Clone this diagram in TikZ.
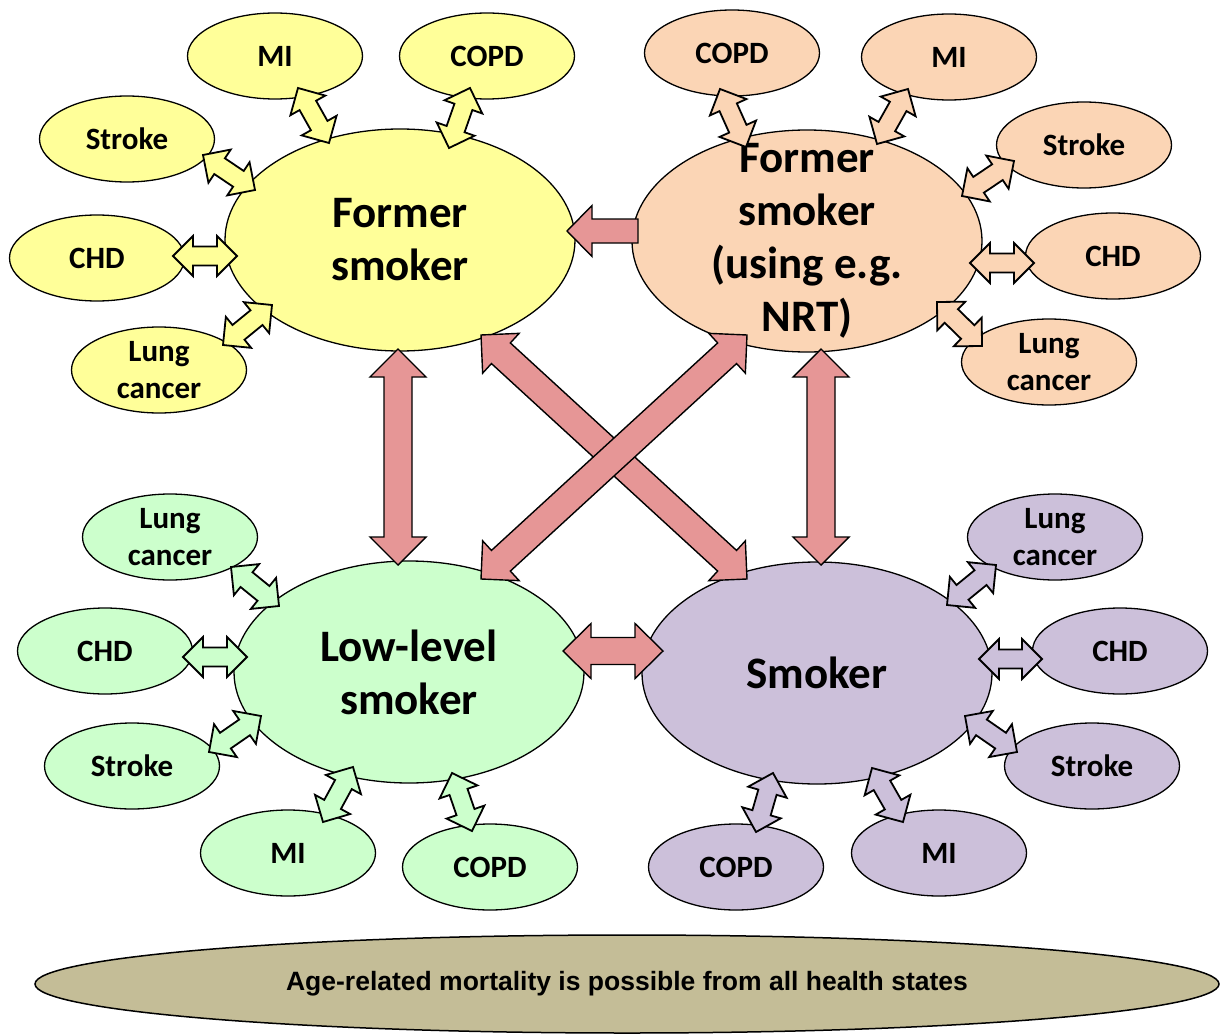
\documentclass[tikz,border=0pt]{standalone}
\usepackage{fontspec}
\setmainfont{Carlito}
\newfontfamily\arialfont{Liberation Sans}
\usetikzlibrary{shapes.geometric,calc}
\definecolor{cyel}{HTML}{FFFF99}
\definecolor{cpea}{HTML}{FBD5B5}
\definecolor{cgrn}{HTML}{CCFFCC}
\definecolor{cpur}{HTML}{CCC0DA}
\definecolor{cred}{HTML}{E69696}
\definecolor{cbot}{HTML}{C4BD97}
% double block arrow: #1 end A, #2 end B, #3 style, #4 half shaft, #5 half head, #6 head length
\newcommand\dblarr[6]{%
\draw[#3] (#1) -- ($(#1)!#6!(#2)!#5!90:(#2)$) -- ($(#1)!#6!(#2)!#4!90:(#2)$)
 -- ($(#2)!#6!(#1)!#4!-90:(#1)$) -- ($(#2)!#6!(#1)!#5!-90:(#1)$) -- (#2)
 -- ($(#2)!#6!(#1)!#5!90:(#1)$) -- ($(#2)!#6!(#1)!#4!90:(#1)$)
 -- ($(#1)!#6!(#2)!#4!-90:(#2)$) -- ($(#1)!#6!(#2)!#5!-90:(#2)$) -- cycle;}
% single block arrow: #1 tip, #2 tail
\newcommand\sglarr[6]{%
\draw[#3] (#1) -- ($(#1)!#6!(#2)!#5!90:(#2)$) -- ($(#1)!#6!(#2)!#4!90:(#2)$)
 -- ($(#2)!#4!-90:(#1)$) -- ($(#2)!#4!90:(#1)$)
 -- ($(#1)!#6!(#2)!#4!-90:(#2)$) -- ($(#1)!#6!(#2)!#5!-90:(#2)$) -- cycle;}
\newcommand\smarr[3]{\dblarr{#1}{#2}{smallarr,fill=#3}{9.5pt}{20pt}{20pt}}
\begin{document}
\begin{tikzpicture}[x=1pt,y=-1pt,
 state/.style={ellipse, draw, line width=1.3pt, inner sep=0pt, minimum width=350pt, minimum height=222pt},
 statetxt/.style={align=center, inner sep=0pt, font=\fontsize{45}{53}\selectfont\bfseries},
 sub/.style={ellipse, draw, line width=1.3pt, inner sep=0pt, minimum width=175pt, minimum height=86pt},
 subtxt/.style={align=center, inner sep=0pt, font=\fontsize{31}{37}\selectfont\bfseries},
 smallarr/.style={draw, line width=1.8pt, line join=miter},
 bigarr/.style={draw, line width=1.4pt, fill=cred, line join=miter}]
\useasboundingbox (0,0) rectangle (1220,1035);

% bottom ellipse
\node[ellipse, draw, line width=1.5pt, fill=cbot, minimum width=1184pt, minimum height=98pt, inner sep=0pt,
 font=\arialfont\bfseries\fontsize{26.5}{30}\selectfont] (mort) at (627,984) {Age-related mortality is possible from all health states};

% main states
\node[state, fill=cyel, label={[statetxt]center:Former\\smoker}] (fs) at (400,240) {};
\node[state, fill=cpea, label={[statetxt]center:Former\\smoker\\(using e.g.\\NRT)}] (nrt) at (807,241) {};
\node[state, fill=cgrn, label={[statetxt]center:Low-level\\smoker}] (low) at (409,672) {};
\node[state, fill=cpur, label={[statetxt]center:Smoker}] (smk) at (817,673) {};

% yellow sub-states
\node[sub, fill=cyel, label={[subtxt]center:MI}] (yMI) at (275,56) {};
\node[sub, fill=cyel, label={[subtxt]center:COPD}] (yCOPD) at (487,56) {};
\node[sub, fill=cyel, label={[subtxt]center:Stroke}] (yStroke) at (127,139) {};
\node[sub, fill=cyel, label={[subtxt]center:CHD}] (yCHD) at (97,258) {};
\node[sub, fill=cyel, label={[subtxt]center:Lung\\cancer}] (yLung) at (159,370) {};
% peach sub-states
\node[sub, fill=cpea, label={[subtxt]center:COPD}] (pCOPD) at (732,53) {};
\node[sub, fill=cpea, label={[subtxt]center:MI}] (pMI) at (949,57) {};
\node[sub, fill=cpea, label={[subtxt]center:Stroke}] (pStroke) at (1084,145) {};
\node[sub, fill=cpea, label={[subtxt]center:CHD}] (pCHD) at (1113,256) {};
\node[sub, fill=cpea, label={[subtxt]center:Lung\\cancer}] (pLung) at (1049,362) {};
% green sub-states
\node[sub, fill=cgrn, label={[subtxt]center:Lung\\cancer}] (gLung) at (170,537) {};
\node[sub, fill=cgrn, label={[subtxt]center:CHD}] (gCHD) at (105,651) {};
\node[sub, fill=cgrn, label={[subtxt]center:Stroke}] (gStroke) at (132,766) {};
\node[sub, fill=cgrn, label={[subtxt]center:MI}] (gMI) at (288,853) {};
\node[sub, fill=cgrn, label={[subtxt]center:COPD}] (gCOPD) at (490,867) {};
% purple sub-states
\node[sub, fill=cpur, label={[subtxt]center:Lung\\cancer}] (uLung) at (1055,537) {};
\node[sub, fill=cpur, label={[subtxt]center:CHD}] (uCHD) at (1120,651) {};
\node[sub, fill=cpur, label={[subtxt]center:Stroke}] (uStroke) at (1092,766) {};
\node[sub, fill=cpur, label={[subtxt]center:COPD}] (uCOPD) at (736,867) {};
\node[sub, fill=cpur, label={[subtxt]center:MI}] (uMI) at (939,853) {};

% arrow end points
\coordinate (a1) at (298,88);  \coordinate (b1) at (329,143);
\coordinate (a2) at (470,88);  \coordinate (b2) at (449,148);
\coordinate (a3) at (203,155); \coordinate (b3) at (255,190);
\coordinate (a4) at (173,256); \coordinate (b4) at (237,256);
\coordinate (a5) at (272,305); \coordinate (b5) at (223,345);
\coordinate (a6) at (720,89);  \coordinate (b6) at (746,147);
\coordinate (a7) at (908,89);  \coordinate (b7) at (877,144);
\coordinate (a8) at (1014,161);\coordinate (b8) at (962,196);
\coordinate (a9) at (970,263); \coordinate (b9) at (1034,263);
\coordinate (a10) at (937,302);\coordinate (b10) at (982,346);
\coordinate (a11) at (231,567);\coordinate (b11) at (279,606);
\coordinate (a12) at (183,657);\coordinate (b12) at (247,657);
\coordinate (a13) at (209,752);\coordinate (b13) at (261,716);
\coordinate (a14) at (353,767);\coordinate (b14) at (323,822);
\coordinate (a15) at (452,773);\coordinate (b15) at (472,831);
\coordinate (a16) at (996,565);\coordinate (b16) at (947,605);
\coordinate (a17) at (979,659);\coordinate (b17) at (1042,659);
\coordinate (a18) at (965,716);\coordinate (b18) at (1017,752);
\coordinate (a19) at (773,773);\coordinate (b19) at (756,832);
\coordinate (a20) at (872,768);\coordinate (b20) at (903,822);

\smarr{a1}{b1}{cyel}
\smarr{a2}{b2}{cyel}
\smarr{a3}{b3}{cyel}
\smarr{a4}{b4}{cyel}
\smarr{a5}{b5}{cyel}
\smarr{a6}{b6}{cpea}
\smarr{a7}{b7}{cpea}
\smarr{a8}{b8}{cpea}
\smarr{a9}{b9}{cpea}
\smarr{a10}{b10}{cpea}
\smarr{a11}{b11}{cgrn}
\smarr{a12}{b12}{cgrn}
\smarr{a13}{b13}{cgrn}
\smarr{a14}{b14}{cgrn}
\smarr{a15}{b15}{cgrn}
\smarr{a16}{b16}{cpur}
\smarr{a17}{b17}{cpur}
\smarr{a18}{b18}{cpur}
\smarr{a19}{b19}{cpur}
\smarr{a20}{b20}{cpur}

% big transitions
\coordinate (v1a) at (398,349); \coordinate (v1b) at (398,565);
\coordinate (v2a) at (821,349); \coordinate (v2b) at (821,565);
\coordinate (d1a) at (481,335); \coordinate (d1b) at (747,579);
\coordinate (d2a) at (747,335); \coordinate (d2b) at (481,579);
\coordinate (hta) at (567,231); \coordinate (htb) at (638,231);
\coordinate (hba) at (563,651); \coordinate (hbb) at (663,651);
\dblarr{v1a}{v1b}{bigarr}{14pt}{28pt}{28pt}
\dblarr{v2a}{v2b}{bigarr}{14pt}{28pt}{28pt}
\dblarr{d1a}{d1b}{bigarr}{14pt}{27pt}{27pt}
\dblarr{d2a}{d2b}{bigarr}{14pt}{27pt}{27pt}
\sglarr{hta}{htb}{bigarr}{12pt}{25.5pt}{25pt}
\dblarr{hba}{hbb}{bigarr}{13.5pt}{27.5pt}{28pt}
\end{tikzpicture}
\end{document}
